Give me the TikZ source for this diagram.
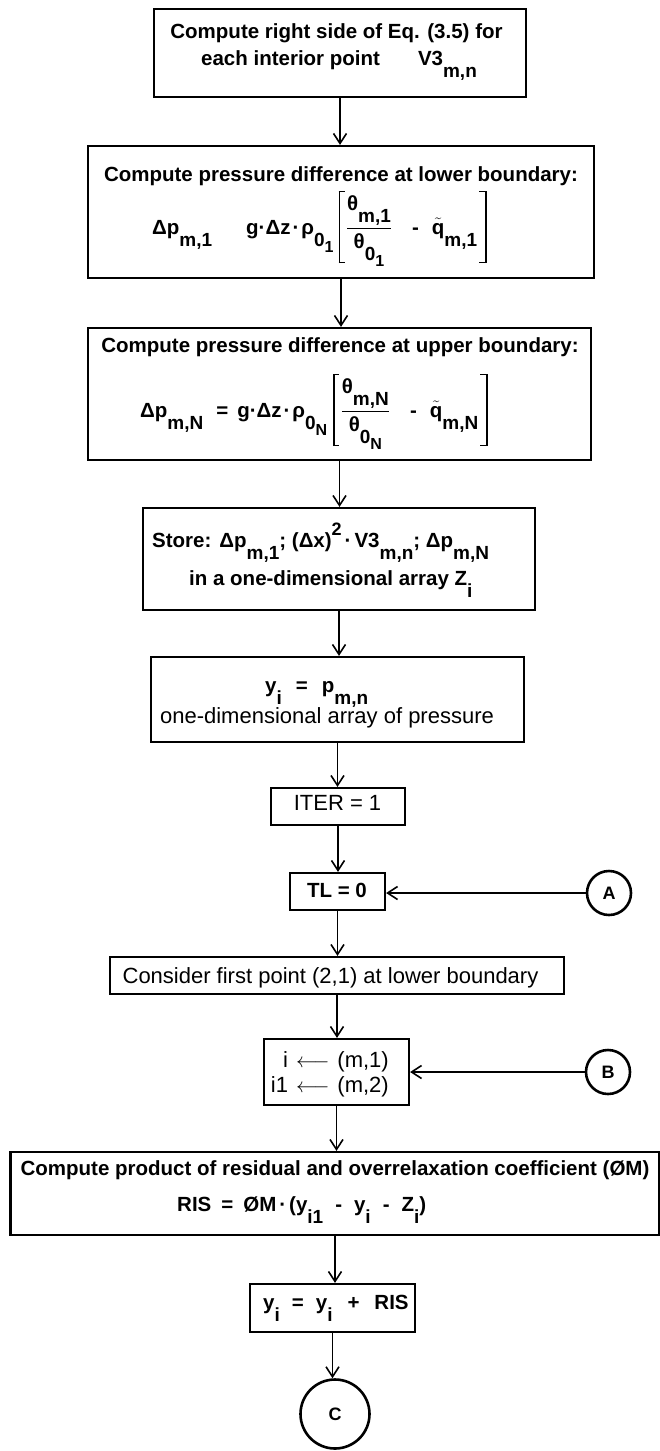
\documentclass[tikz,border=0pt]{standalone}
\usepackage{amsmath}
\usepackage{fontspec}
\setmainfont{Liberation Sans}
\usetikzlibrary{arrows.meta}
\newcommand\lo[1]{\raisebox{-0.6em}{\fontsize{19}{19}\selectfont #1}}
\newcommand\loo[1]{\raisebox{-0.3em}{\fontsize{16}{16}\selectfont #1}}
\newcommand\hi[1]{\raisebox{0.55em}{\fontsize{18}{18}\selectfont #1}}
\newcommand\lbrk{\raisebox{-29pt}{\rlap{\rule{6pt}{1.4pt}}\rlap{\raisebox{70.6pt}{\rule{6pt}{1.4pt}}}\rule{1.4pt}{72pt}}\hspace{6pt}}
\newcommand\rbrk{\hspace{8pt}\raisebox{-29pt}{\llap{\rule{6pt}{1.4pt}}\llap{\raisebox{70.6pt}{\rule{6pt}{1.4pt}}}\rule{1.4pt}{72pt}}}
\tikzset{
  boxnode/.style={draw, line width=2.2pt, inner sep=0pt},
  circnode/.style={draw, circle, line width=2.6pt, inner sep=0pt, font=\fontsize{18}{18}\selectfont\bfseries},
  txt/.style={inner sep=0pt, font=\fontsize{20.5}{24}\selectfont\bfseries},
  txtr/.style={inner sep=0pt, font=\fontsize{22}{26}\selectfont},
  flow/.style={line width=1.6pt, -{Straight Barb[length=10pt,width=13pt,line width=1.6pt]}}
}
\begin{document}
\begin{tikzpicture}[x=1pt,y=-1pt]
\useasboundingbox[fill=white] (0,0) rectangle (660,1451);
% boxes
\node[boxnode, minimum width=372pt, minimum height=88pt] (b1) at (340,53) {};
\node[boxnode, minimum width=506pt, minimum height=132pt] (b2) at (341,212) {};
\node[boxnode, minimum width=503pt, minimum height=132pt] (b3) at (339.5,394) {};
\node[boxnode, minimum width=392pt, minimum height=102pt] (b4) at (339,559) {};
\node[boxnode, minimum width=373pt, minimum height=85pt] (b5) at (337.5,699.5) {};
\node[boxnode, minimum width=134pt, minimum height=37pt] (iter) at (338,806.5) {};
\node[boxnode, minimum width=95pt, minimum height=37pt] (tl) at (337.5,891.5) {};
\node[boxnode, minimum width=454pt, minimum height=37pt] (cons) at (337,975.5) {};
\node[boxnode, minimum width=145pt, minimum height=66pt] (ib) at (336.5,1072) {};
\node[boxnode, minimum width=649pt, minimum height=83pt] (cp) at (335,1193.5) {};
\node[boxnode, minimum width=165pt, minimum height=48pt] (yb) at (332.5,1308) {};
\node[circnode, minimum size=44pt] (A) at (609,893) {A};
\node[circnode, minimum size=44pt] (B) at (608,1072) {B};
\node[circnode, minimum size=69pt] (C) at (335,1414) {C};
% texts
\node[txt, anchor=base] (t1a) at (336.5,38) {Compute right side of Eq. (3.5) for};
\node[txt, anchor=base west] (t1b) at (201,65) {each interior point\hspace{38pt}V3\lo{m,n}};
\node[txt, anchor=base] (t2a) at (341,181) {Compute pressure difference at lower boundary:};
\node[txt, anchor=base west] (t2b) at (152,234) {Δp\lo{m,1}\hspace{34pt}g·Δz\kern2pt·\kern2ptρ\lo{0\loo{1}}\hspace{5pt}\lbrk$\displaystyle\frac{\mbox{θ\lo{m,1}}}{\mbox{θ\lo{0\loo{1}}}}$\hspace{20pt}-\hspace{13pt}$\tilde{\mbox{q}}$\lo{m,1}\rbrk};
\node[txt, anchor=base] (t3a) at (340,352) {Compute pressure difference at upper boundary:};
\node[txt, anchor=base west] (t3b) at (140,417) {Δp\lo{m,N}\hspace{13pt}=\hspace{9pt}g·Δz\kern2pt·\kern2ptρ\lo{0\loo{N}}\hspace{6pt}\lbrk$\displaystyle\frac{\mbox{θ\lo{m,N}}}{\mbox{θ\lo{0\loo{N}}}}$\hspace{20pt}-\hspace{13pt}$\tilde{\mbox{q}}$\lo{m,N}\rbrk};
\node[txt, anchor=base west] (t4a) at (152,547) {Store:\hspace{8pt}Δp\lo{m,1}; (Δx)\hi{2}\hspace{3pt}·\hspace{3pt}V3\lo{m,n}; Δp\lo{m,N}};
\node[txt, anchor=base west] (t4b) at (189,585) {in a one-dimensional array Z\lo{i}};
\node[txt, anchor=base west] (t5a) at (265,692) {y\lo{i}\hspace{14pt}=\hspace{14pt}p\lo{m,n}};
\node[txtr, anchor=base] (t5b) at (327,723) {one-dimensional array of pressure};
\node[txtr, anchor=base] (titer) at (337.5,810) {ITER = 1};
\node[txt, anchor=base] (ttl) at (337,897) {TL = 0};
\node[txtr, anchor=base] (tcons) at (330.5,983) {Consider first point (2,1) at lower boundary};
\node[txtr, anchor=base east] (tib1) at (389,1067) {i\hspace{8pt}$\longleftarrow$\hspace{8pt}(m,1)};
\node[txtr, anchor=base east] (tib2) at (389,1092) {i1\hspace{8pt}$\longleftarrow$\hspace{8pt}(m,2)};
\node[txt, anchor=base] (tcpa) at (335,1175) {Compute product of residual and overrelaxation coefficient (ØM)};
\node[txt, anchor=base west] (tcpb) at (177,1211) {RIS\hspace{10pt}=\hspace{10pt}ØM\kern3pt·\kern3pt(y\lo{i1}\hspace{12pt}-\hspace{12pt}y\lo{i}\hspace{12pt}-\hspace{12pt}Z\lo{i})};
\node[txt, anchor=base west] (tyb) at (263,1309) {y\lo{i}\hspace{12pt}=\hspace{12pt}y\lo{i}\hspace{15pt}+\hspace{15pt}RIS};
% connectors
\draw[flow] (b1.south) -- (b1.south |- b2.north);
\draw[flow] (b2.south) -- (b2.south |- b3.north);
\draw[flow] (b3.south) -- (b3.south |- b4.north);
\draw[flow] (b4.south) -- (b4.south |- b5.north);
\draw[flow] (b5.south) -- (b5.south |- iter.north);
\draw[flow] (iter.south) -- (iter.south |- tl.north);
\draw[flow] (tl.south) -- (tl.south |- cons.north);
\draw[flow] (cons.south) -- (cons.south |- ib.north);
\draw[flow] (ib.south) -- (ib.south |- cp.north);
\draw[flow] (cp.south) -- (cp.south |- yb.north);
\draw[flow] (yb.south) -- (yb.south |- C.north);
\draw[flow] (A.west) -- (A.west -| tl.east);
\draw[flow] (B.west) -- (B.west -| ib.east);
\end{tikzpicture}
\end{document}
